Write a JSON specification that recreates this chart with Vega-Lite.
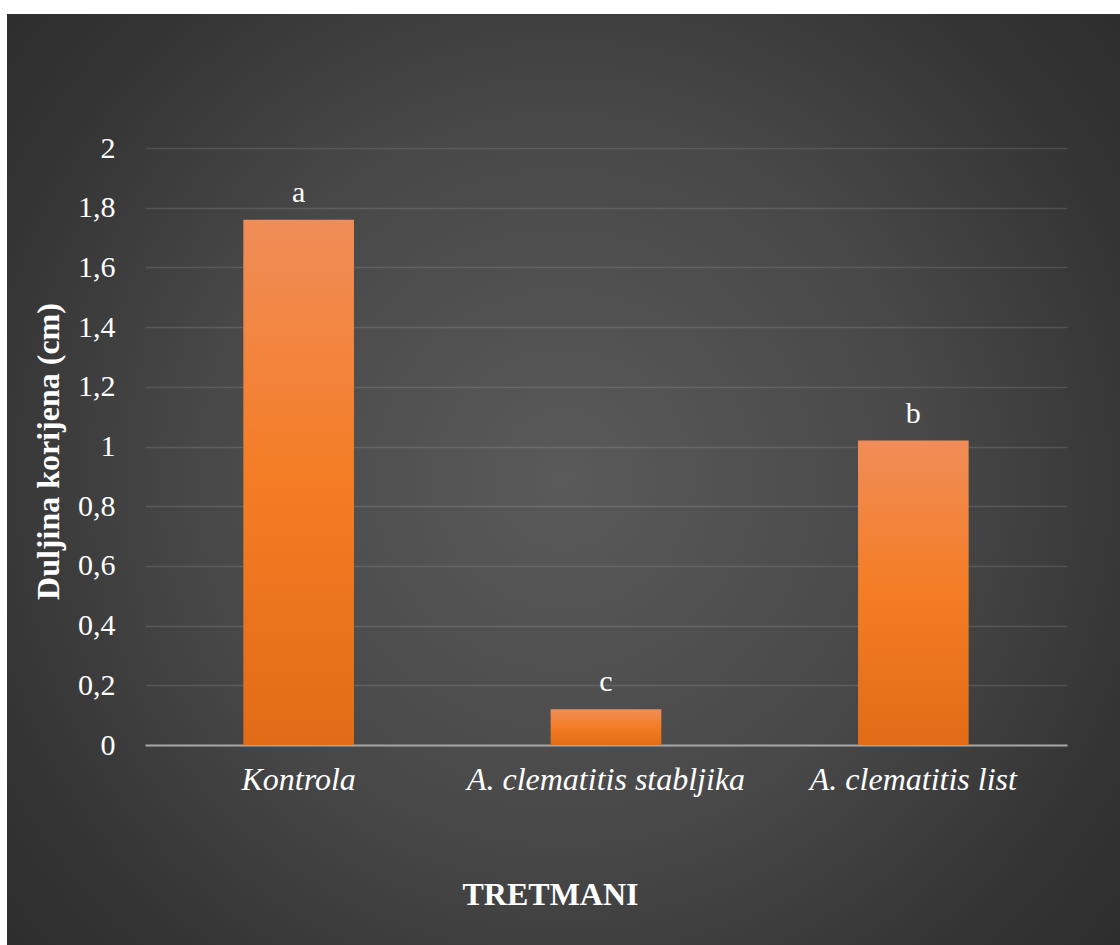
{
  "$schema": "https://vega.github.io/schema/vega-lite/v6.json",
  "width": 1113,
  "height": 931,
  "autosize": {"type": "none"},
  "padding": {"left": 7, "top": 14, "right": 0, "bottom": 0},
  "background": "#ffffff",
  "view": {
    "stroke": null,
    "fill": {
      "gradient": "radial",
      "x1": 0.5, "y1": 0.5, "r1": 0,
      "x2": 0.5, "y2": 0.5, "r2": 0.72,
      "stops": [
        {"offset": 0, "color": "#5a5a5a"},
        {"offset": 0.45, "color": "#484848"},
        {"offset": 0.75, "color": "#343434"},
        {"offset": 1, "color": "#2a2a2a"}
      ]
    }
  },
  "data": {
    "values": [
      {"tretman": "Kontrola", "duljina": 1.76, "oznaka": "a"},
      {"tretman": "A. clematitis stabljika", "duljina": 0.12, "oznaka": "c"},
      {"tretman": "A. clematitis list", "duljina": 1.02, "oznaka": "b"}
    ]
  },
  "encoding": {
    "x": {
      "field": "tretman",
      "type": "nominal",
      "sort": null,
      "scale": {"range": [138, 1060], "paddingInner": 0.64, "paddingOuter": 0.32},
      "axis": {
        "orient": "bottom",
        "offset": -200,
        "title": "TRETMANI",
        "titleFont": "Liberation Serif",
        "titleFontSize": 32,
        "titleFontWeight": "bold",
        "titleColor": "#ffffff",
        "titleAnchor": null,
        "titleAlign": "center",
        "titleBaseline": "alphabetic",
        "titleX": 543,
        "titleY": 159,
        "labelFont": "Liberation Serif",
        "labelFontSize": 32,
        "labelFontStyle": "italic",
        "labelColor": "#ffffff",
        "labelAngle": 0,
        "labelLimit": 0,
        "labelOverlap": false,
        "labelPadding": 19,
        "ticks": false,
        "tickSize": 0,
        "domainColor": "#a6a6a6",
        "domainWidth": 2,
        "grid": false
      }
    },
    "y": {
      "field": "duljina",
      "type": "quantitative",
      "scale": {"domain": [0, 2], "range": [731, 134], "nice": false, "zero": true},
      "axis": {
        "orient": "left",
        "offset": -138,
        "values": [0, 0.2, 0.4, 0.6, 0.8, 1, 1.2, 1.4, 1.6, 1.8, 2],
        "labelExpr": "replace(format(datum.value, '~g'), '.', ',')",
        "title": "Duljina korijena (cm)",
        "titleFont": "Liberation Serif",
        "titleFontSize": 32,
        "titleFontWeight": "bold",
        "titleColor": "#ffffff",
        "titleAngle": 270,
        "titleAlign": "center",
        "titleBaseline": "alphabetic",
        "titleAnchor": null,
        "titleX": -87,
        "titleY": 437,
        "labelFont": "Liberation Serif",
        "labelFontSize": 30,
        "labelColor": "#ffffff",
        "labelPadding": 30,
        "labelOverlap": false,
        "ticks": false,
        "tickSize": 0,
        "domain": false,
        "grid": true,
        "gridColor": "#ffffff",
        "gridOpacity": 0.12,
        "gridWidth": 1.5
      }
    }
  },
  "layer": [
    {
      "mark": {
        "type": "bar",
        "color": {
          "gradient": "linear",
          "x1": 0, "y1": 0, "x2": 0, "y2": 1,
          "stops": [
            {"offset": 0, "color": "#f08d58"},
            {"offset": 0.5, "color": "#f47c24"},
            {"offset": 1, "color": "#e26b17"}
          ]
        }
      }
    },
    {
      "mark": {
        "type": "text",
        "font": "Liberation Serif",
        "fontSize": 30,
        "color": "#ffffff",
        "baseline": "alphabetic",
        "dy": -18
      },
      "encoding": {"text": {"field": "oznaka"}}
    }
  ]
}
